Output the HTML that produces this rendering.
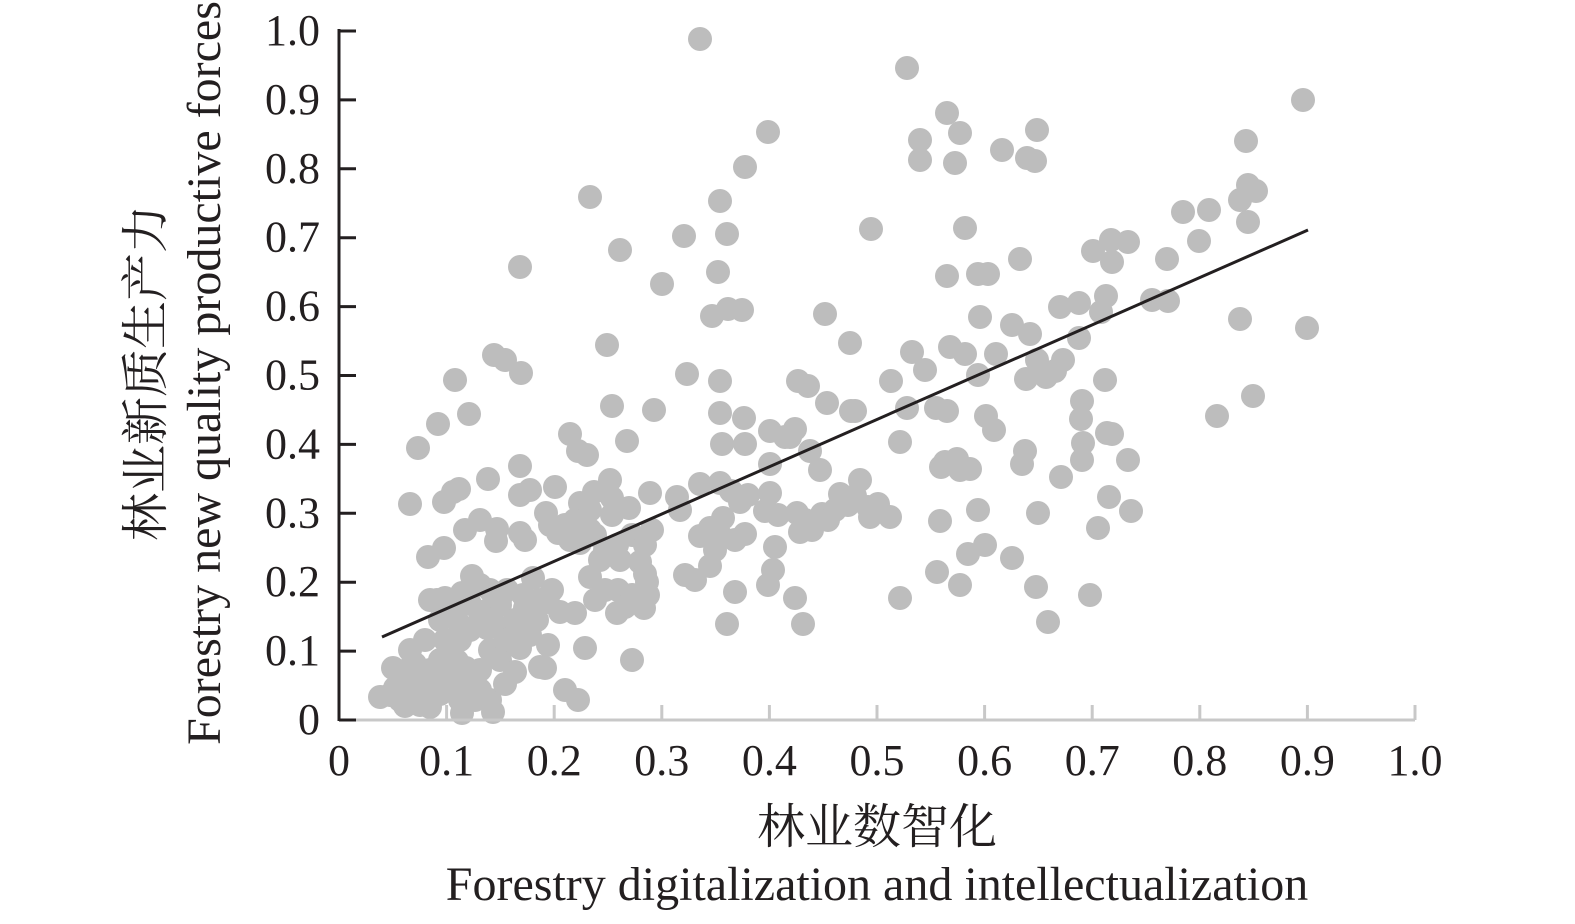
<!DOCTYPE html><html><head><meta charset="utf-8"><style>
body{margin:0;background:#fff;width:1575px;height:919px;overflow:hidden}
svg text{font-family:"Liberation Serif","Noto Serif CJK SC",serif;fill:#231f20}
</style></head><body>
<svg id="s" width="1575" height="919" xmlns="http://www.w3.org/2000/svg">
<g id="dots" fill="#bdbdbd"></g>
<line x1="339" y1="720" x2="1415" y2="720" stroke="#c8c8c8" stroke-width="3"/>
<g id="xt" stroke="#c8c8c8" stroke-width="3"></g>
<line x1="339" y1="29" x2="339" y2="721" stroke="#231f20" stroke-width="3"/>
<g id="yt" stroke="#231f20" stroke-width="3"></g>
<line x1="382" y1="637" x2="1308" y2="230" stroke="#231f20" stroke-width="3"/>
<g id="labels" font-size="44"></g>
<text x="877" y="843" font-size="48" text-anchor="middle">林业数智化</text>
<text x="877" y="900" font-size="48" text-anchor="middle">Forestry digitalization and intellectualization</text>
<text transform="translate(162,373) rotate(-90)" font-size="48" text-anchor="middle">林业新质生产力</text>
<text transform="translate(220,373) rotate(-90)" font-size="48" text-anchor="middle">Forestry new quality productive forces</text>
</svg>
<script>
var P=[700,39,907,68,1303,100,768,132,1246,141,920,140,947,113,960,133,920,160,955,163,1037,130,1002,150,1027,158,1035,161,745,167,590,197,720,201,1183,212,1209,210,1240,200,1248,185,1256,191,1248,222,1199,241,871,229,684,236,727,234,965,228,1111,240,1128,242,1093,251,1112,262,1167,259,520,267,620,250,718,272,947,276,978,274,988,274,1020,259,662,284,1152,300,1168,301,1106,296,1079,303,1060,307,1101,312,712,316,728,309,742,310,825,314,980,317,1012,325,1030,334,1240,319,1307,328,607,345,850,343,1079,338,950,347,965,354,912,352,996,354,494,355,505,360,521,373,455,380,687,374,720,381,891,381,925,370,978,375,1026,379,1046,377,1055,371,1063,360,1037,360,1105,380,798,381,808,386,907,408,936,408,947,411,1082,401,1253,396,1217,416,469,414,612,406,654,410,720,413,744,418,827,403,851,411,855,411,1081,419,1107,433,1112,434,1083,443,418,448,438,424,570,434,627,441,722,444,745,444,770,431,785,437,795,429,900,442,986,416,994,430,1025,451,1022,464,1128,460,1082,460,1061,477,1109,497,1098,528,1131,511,941,467,960,470,970,469,957,459,945,462,820,470,810,451,790,437,770,464,578,451,587,455,520,466,453,492,410,504,444,502,459,489,488,479,520,495,546,513,555,487,530,490,580,503,594,492,610,480,612,498,629,508,650,493,677,497,700,484,652,530,680,510,720,483,731,491,740,502,748,495,765,511,770,493,778,515,797,513,805,520,812,530,822,514,828,520,835,510,840,494,855,496,860,480,868,507,878,504,870,517,848,505,978,510,1038,513,890,517,940,521,575,520,590,510,612,515,632,535,595,535,605,550,617,545,645,545,640,562,645,574,647,582,648,595,700,536,710,528,720,535,723,518,735,540,745,534,775,547,800,532,715,550,710,566,695,580,685,575,735,592,768,585,773,570,795,598,803,624,727,624,900,598,960,585,937,572,968,554,985,545,1012,558,1036,587,1048,622,1090,595,428,557,444,548,465,530,480,520,496,541,497,529,520,533,525,540,550,525,558,533,565,525,570,540,580,543,590,530,600,560,620,560,605,590,595,600,590,577,618,590,632,595,625,607,617,613,644,608,632,660,585,648,565,690,578,700,548,645,540,667,548,602,560,612,575,613,552,590,533,578,540,600,523,595,507,590,500,605,488,610,480,620,470,630,460,640,450,650,440,660,430,670,420,680,410,690,400,700,390,695,380,697,393,668,410,650,415,664,425,640,437,600,445,598,462,593,470,604,480,585,490,590,500,600,510,640,490,650,500,660,480,670,470,680,480,690,490,700,493,712,470,695,460,700,450,690,440,694,430,707,417,690,405,706,440,620,455,615,460,625,487,628,495,625,515,620,525,608,537,620,530,635,520,648,545,668,515,672,505,640,520,628,445,640,457,661,466,668,452,676,438,680,425,690,412,665,403,675,395,688,420,705,462,713,475,700,505,684,430,600,450,605,472,576];
var ns="http://www.w3.org/2000/svg",d=document.getElementById("dots");
for(var i=0;i<P.length;i+=2){var c=document.createElementNS(ns,"circle");c.setAttribute("cx",P[i]);c.setAttribute("cy",P[i+1]);c.setAttribute("r",12);d.appendChild(c);}
var xt=document.getElementById("xt"),yt=document.getElementById("yt"),lb=document.getElementById("labels");
function el(p,t,a){var e=document.createElementNS(ns,t);for(var k in a)e.setAttribute(k,a[k]);p.appendChild(e);return e;}
for(var k=0;k<=10;k++){var x=339+k*107.6;if(k>0)el(xt,"line",{x1:x,y1:705,x2:x,y2:720});
var t=el(lb,"text",{x:x,y:775,"text-anchor":"middle"});t.textContent=k==0?"0":(k==10?"1.0":"0."+k);
var y=720-k*68.9;el(yt,"line",{x1:339,y1:y,x2:356,y2:y});
var u=el(lb,"text",{x:320,y:y+14,"text-anchor":"end"});u.textContent=k==0?"0":(k==10?"1.0":"0."+k);}
</script>
</body></html>
